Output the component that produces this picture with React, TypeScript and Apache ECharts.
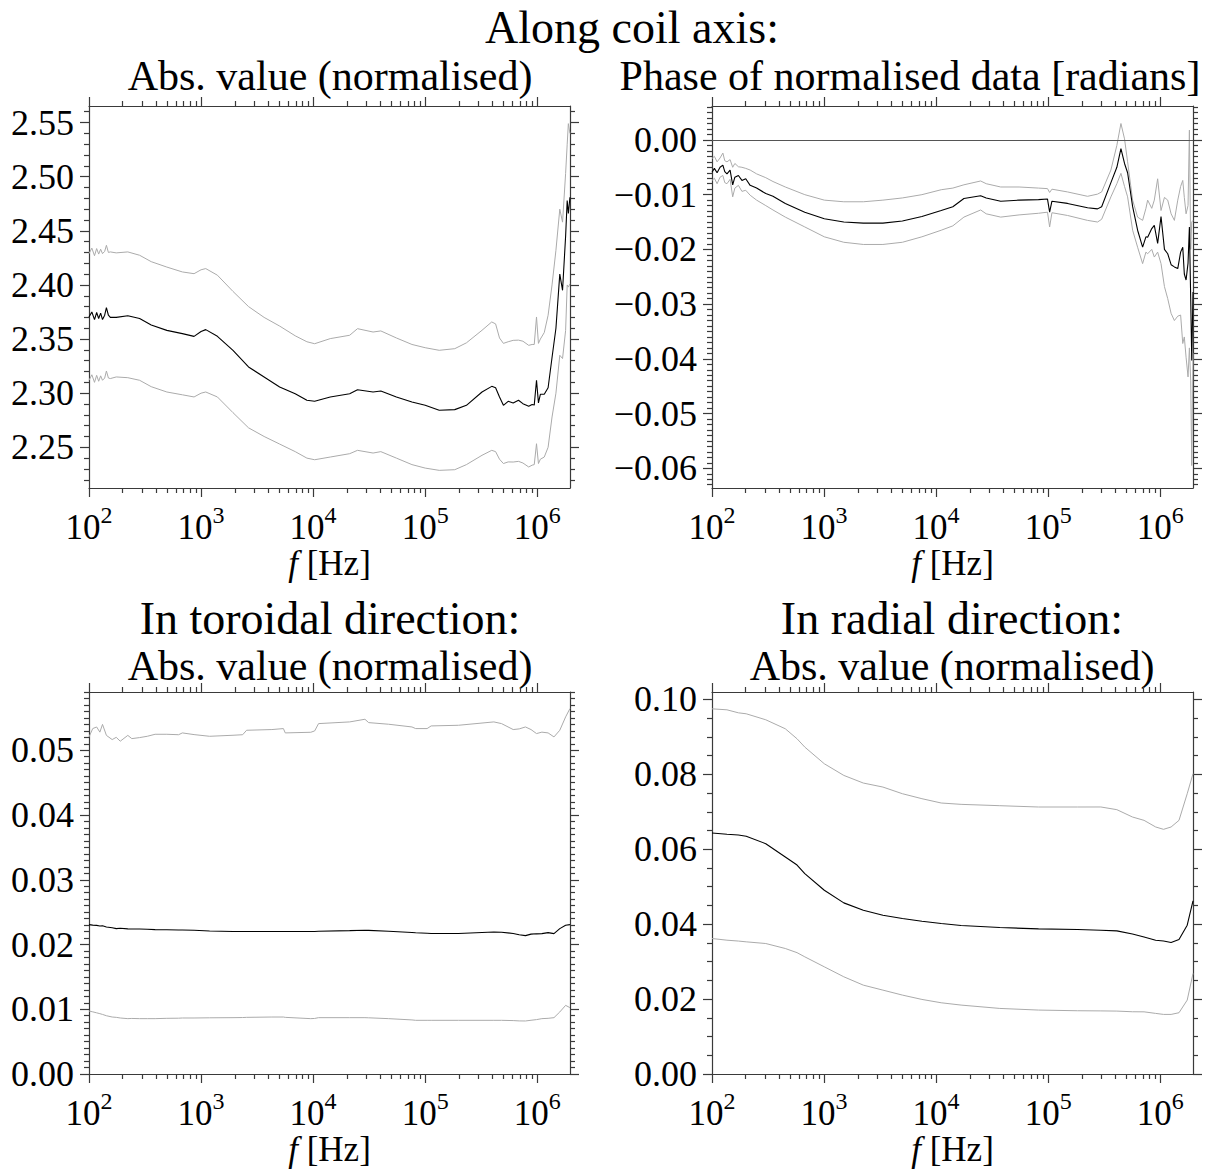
import React, { useEffect, useRef } from "react";
import * as echarts from "echarts";

// ---------- shared x axis ----------
const X_MIN = 100;
const X_MAX = 1.96e6;
const xMajorTicks = [1e2, 1e3, 1e4, 1e5, 1e6];

// ---------- Panel 1: along coil axis, abs value ----------
const coilAbsFreq = [100, 106, 112, 117, 122, 127, 132, 138, 143, 149, 155, 175, 222, 283, 359, 495, 681, 866, 1000, 1101, 1399, 1927, 2652, 3652, 5026, 6921, 8799, 10320, 14210, 21200, 24880, 34270, 40190, 55360, 76210, 100000, 133400, 183600, 233400, 321400, 392600, 425000, 460500, 499000, 550000, 609700, 680000, 744800, 839400, 900000, 940000, 985000, 1025000, 1066000, 1155000, 1250000, 1355000, 1468000, 1589000, 1682000, 1791000, 1850000, 1895000, 1958000];
const coilAbsMean = [2.3704, 2.375, 2.368, 2.3745, 2.369, 2.374, 2.368, 2.372, 2.379, 2.372, 2.37,
  2.37, 2.3716, 2.369, 2.363, 2.358, 2.355, 2.3525, 2.357, 2.3587, 2.3525,
  2.3396, 2.3242, 2.315, 2.3057, 2.2995, 2.2934, 2.2925, 2.2965, 2.2995, 2.3032,
  2.3011, 2.302, 2.2965, 2.2919, 2.2888, 2.2842, 2.2848, 2.2888, 2.3011, 2.3063,
  2.305, 2.2965, 2.2888, 2.2925, 2.2909, 2.2935, 2.2903, 2.2879, 2.2895, 2.289,
  2.3119, 2.291, 2.299, 2.299, 2.305, 2.333, 2.36, 2.41, 2.395, 2.445,
  2.478, 2.466, 2.481];
const coilAbsUpper = [2.4289, 2.434, 2.427, 2.4336, 2.4285, 2.433, 2.4289, 2.431, 2.4366, 2.43, 2.4305,
  2.4296, 2.4305, 2.4274, 2.4215, 2.4165, 2.412, 2.4104, 2.414, 2.4151, 2.409,
  2.394, 2.38, 2.37, 2.362, 2.353, 2.3475, 2.3457, 2.3504, 2.3535, 2.3596,
  2.3565, 2.3575, 2.351, 2.345, 2.342, 2.3396, 2.3411, 2.3465, 2.3581, 2.3658,
  2.364, 2.351, 2.346, 2.3475, 2.3488, 2.349, 2.348, 2.3442, 2.345, 2.345,
  2.3704, 2.346, 2.35, 2.356, 2.372, 2.4, 2.432, 2.47, 2.458, 2.503,
  2.53, 2.549, 2.54];
const coilAbsLower = [2.3119, 2.317, 2.31, 2.3165, 2.311, 2.316, 2.3119, 2.314, 2.3205, 2.314, 2.3135,
  2.315, 2.3143, 2.3119, 2.306, 2.3011, 2.2985, 2.2965, 2.3, 2.3011, 2.2965,
  2.282, 2.268, 2.26, 2.253, 2.246, 2.24, 2.2385, 2.241, 2.2441, 2.2472,
  2.2447, 2.246, 2.24, 2.234, 2.2308, 2.2287, 2.2293, 2.234, 2.2426, 2.2472,
  2.246, 2.239, 2.235, 2.2365, 2.2364, 2.237, 2.2355, 2.2318, 2.2335, 2.234,
  2.2533, 2.235, 2.239, 2.241, 2.25, 2.278, 2.3, 2.335, 2.332, 2.358,
  2.4, 2.398, 2.401];
const coilAbsTicks = [2.25, 2.3, 2.35, 2.4, 2.45, 2.5, 2.55];

// ---------- Panel 2: along coil axis, phase ----------
const phaseFreq = [100, 105, 111, 118, 125, 130, 136, 145, 153, 160, 172, 185, 200, 219, 250, 302, 350, 451, 673, 1005, 1500, 2240, 3350, 5000, 7470, 11100, 14100, 17700, 24960, 28000, 37700, 55000, 82000, 98600, 103000, 108000, 148700, 224500, 275700, 300000, 362800, 410000, 445800, 480000, 511300, 567000, 628000, 696000, 745000, 772000, 840000, 885000, 948000, 1016000, 1090000, 1166000, 1250000, 1337000, 1433000, 1520000, 1588000, 1640000, 1700000, 1770000, 1820000, 1870000, 1910000, 1960000];
const phaseMean = [-0.0059, -0.0052, -0.006, -0.005, -0.0046, -0.0058, -0.0062, -0.0055, -0.0082, -0.0068,
  -0.0065, -0.0074, -0.0071, -0.0083, -0.0088, -0.0098, -0.0103, -0.0116,
  -0.0132, -0.0144, -0.015, -0.0152, -0.0152, -0.0148, -0.014, -0.0129, -0.0122, -0.0107,
  -0.0102, -0.0106, -0.0112, -0.011, -0.0109, -0.0108, -0.0132, -0.0112, -0.0116, -0.0124,
  -0.0126, -0.0122, -0.0078, -0.005, -0.0016, -0.0043, -0.006, -0.0122, -0.0165, -0.0196,
  -0.0177, -0.0178, -0.0162, -0.0156, -0.0189, -0.014, -0.02, -0.0208, -0.0228, -0.0232,
  -0.0235, -0.0205, -0.0196, -0.0245, -0.0256, -0.0225, -0.0159, -0.029, -0.0403, -0.0278];
const phaseUpper = [-0.0034, -0.003, -0.004, -0.0033, -0.0024, -0.0038, -0.004, -0.0036, -0.005, -0.0043,
  -0.0049, -0.005, -0.0052, -0.0055, -0.0062, -0.0069, -0.0076, -0.0086,
  -0.01, -0.011, -0.0113, -0.0113, -0.011, -0.0106, -0.01, -0.0091, -0.0088, -0.0082,
  -0.0075, -0.008, -0.0086, -0.0086, -0.0088, -0.0089, -0.0096, -0.009, -0.0095, -0.0103,
  -0.0099, -0.0095, -0.0055, -0.001, 0.003, 0.0002, -0.004, -0.011, -0.0141, -0.0147,
  -0.0125, -0.011, -0.0125, -0.011, -0.0071, -0.0129, -0.0105, -0.011, -0.0135, -0.0147,
  -0.011, -0.0085, -0.0074, -0.0105, -0.0135, -0.012, 0.0018, -0.02, -0.015, -0.0147];
const phaseLower = [-0.0074, -0.007, -0.008, -0.0068, -0.0065, -0.0078, -0.008, -0.0072, -0.0104, -0.0088,
  -0.0083, -0.0094, -0.0092, -0.0101, -0.011, -0.012, -0.0128, -0.0141,
  -0.0159, -0.0177, -0.0187, -0.0191, -0.0191, -0.0187, -0.0177, -0.0165, -0.0157, -0.0141,
  -0.0128, -0.0135, -0.0141, -0.0137, -0.0134, -0.0132, -0.0159, -0.0133, -0.0138, -0.0147,
  -0.015, -0.0145, -0.0104, -0.008, -0.0061, -0.0085, -0.0104, -0.0165, -0.0196, -0.0226,
  -0.0205, -0.0208, -0.02, -0.0214, -0.0205, -0.0226, -0.0268, -0.029, -0.0317, -0.033,
  -0.0322, -0.032, -0.0372, -0.036, -0.0397, -0.0433, -0.038, -0.044, -0.0595, -0.039];
const phaseTicks = [-0.06, -0.05, -0.04, -0.03, -0.02, -0.01, 0];

// ---------- Panel 3: toroidal direction ----------
const torFreq = [100, 108, 117, 125, 132, 143, 161, 175, 190, 222, 241, 283, 331, 389, 495, 630, 681, 866, 1192, 1927, 2350, 2550, 4284, 5430, 5640, 9527, 10320, 11180, 21200, 29000, 31300, 47200, 76210, 82200, 104000, 113000, 198000, 410000, 480000, 610000, 690000, 785000, 880000, 985000, 1100000, 1250000, 1410000, 1589000, 1791000, 1958000];
const torMean = [0.02307, 0.023, 0.02295, 0.02285, 0.0229, 0.0227, 0.0226, 0.02245, 0.0225, 0.02242,
  0.0224, 0.0224, 0.02235, 0.0223, 0.02228, 0.02225, 0.02224, 0.0222, 0.02208, 0.022,
  0.022, 0.022, 0.022, 0.022, 0.022, 0.022, 0.02202, 0.02205, 0.02214, 0.0222,
  0.02219, 0.02204, 0.02185, 0.02182, 0.02173, 0.0217, 0.0217, 0.02194, 0.0219, 0.0217,
  0.0215, 0.02137, 0.0216, 0.02165, 0.02168, 0.02183, 0.02168, 0.02245, 0.02297, 0.02307];
const torUpper = [0.05206, 0.05335, 0.0536, 0.0528, 0.054, 0.0523, 0.05165, 0.052, 0.0514, 0.0523,
  0.0518, 0.05196, 0.05216, 0.05247, 0.05247, 0.0524, 0.05268, 0.05242, 0.05216, 0.05232,
  0.0524, 0.05309, 0.0532, 0.05335, 0.05268, 0.05278, 0.05299, 0.05412, 0.05438, 0.05479,
  0.05427, 0.05402, 0.0536, 0.05335, 0.05335, 0.05376, 0.05386, 0.05438, 0.05412, 0.0532,
  0.0533, 0.0536, 0.0532, 0.05258, 0.0528, 0.05268, 0.05206, 0.05309, 0.05515, 0.05644];
const torLower = [0.00973, 0.0096, 0.00945, 0.00932, 0.0092, 0.009, 0.0088, 0.00875, 0.00865, 0.00855,
  0.00858, 0.00855, 0.00855, 0.00855, 0.0086, 0.00862, 0.00865, 0.00865, 0.00868, 0.0087,
  0.00872, 0.00875, 0.0088, 0.0088, 0.00875, 0.00855, 0.00858, 0.0087, 0.0087, 0.0087,
  0.00868, 0.00855, 0.00835, 0.00829, 0.00829, 0.00829, 0.00829, 0.00829, 0.00829, 0.00825,
  0.0082, 0.00819, 0.0083, 0.0084, 0.00855, 0.0086, 0.0087, 0.00958, 0.0106, 0.01025];
const torTicks = [0, 0.01, 0.02, 0.03, 0.04, 0.05];

// ---------- Panel 4: radial direction ----------
const radFreq = [100, 136, 172, 202, 302, 451, 574, 673, 1005, 1500, 2240, 3350, 5000, 7470, 11100, 16700, 37000, 82000, 183000, 295000, 410000, 565000, 717000, 910000, 1070000, 1250000, 1470000, 1740000, 1960000];
const radMean = [0.06436, 0.064, 0.0638, 0.06347, 0.0615, 0.05796, 0.0558, 0.05351, 0.04907, 0.04569,
  0.04373, 0.0424, 0.04151, 0.0408, 0.04018, 0.03964, 0.03911, 0.03876, 0.03858, 0.0384,
  0.03822, 0.0374, 0.0366, 0.03573, 0.0355, 0.03511, 0.03591, 0.03973, 0.04622];
const radUpper = [0.09751, 0.09724, 0.09644, 0.09618, 0.09458, 0.09218, 0.08951, 0.08729, 0.08284, 0.07973,
  0.07769, 0.07662, 0.07484, 0.07351, 0.07236, 0.072, 0.07164, 0.07129, 0.07129, 0.0713,
  0.07058, 0.06862, 0.06773, 0.06596, 0.06533, 0.06596, 0.06773, 0.07484, 0.08018];
const radLower = [0.03618, 0.03573, 0.0355, 0.03529, 0.03484, 0.03351, 0.0324, 0.03129, 0.02862, 0.02596,
  0.02373, 0.0224, 0.02107, 0.01991, 0.01902, 0.0184, 0.01751, 0.01707, 0.01689, 0.01685,
  0.0168, 0.01662, 0.0166, 0.01618, 0.01591, 0.01591, 0.01636, 0.01973, 0.02684];
const radTicks = [0, 0.02, 0.04, 0.06, 0.08, 0.1];

// ---------- styling ----------
const FONT = '"Liberation Serif", "Times New Roman", "DejaVu Serif", serif';
const AXIS_COLOR = "#3a3a3a";
const GRAY = "#ababab";
const YTICK_FS = 36;
const XTICK_FS = 35;
const SUP_FS = 24;
const TITLE_FS = 42;
const HEAD_FS = 46;

function stepTicks(lo: number, hi: number, step: number, skipEvery: number): number[] {
  const out: number[] = [];
  const n0 = Math.ceil(lo / step - 1e-9);
  const n1 = Math.floor(hi / step + 1e-9);
  for (let n = n0; n <= n1; n++) {
    if (Math.abs(n % skipEvery) !== 0) out.push(Number((n * step).toFixed(6)));
  }
  return out;
}

const xMinorTicks: number[] = [];
for (let e = 2; e <= 6; e++) {
  for (let k = 2; k <= 9; k++) {
    const v = k * Math.pow(10, e);
    if (v <= X_MAX) xMinorTicks.push(v);
  }
}

const pair = (f: number[], v: number[]) => f.map((x, i) => [x, v[i]]);

const panels = [
  { grid: { left: 89, top: 106 }, ymin: 2.2124, ymax: 2.5653, major: coilAbsTicks, minor: stepTicks(2.2124, 2.5653, 0.01, 5), freq: coilAbsFreq, mean: coilAbsMean, up: coilAbsUpper, lo: coilAbsLower, zero: false },
  { grid: { left: 712, top: 106 }, ymin: -0.0636, ymax: 0.0062, major: phaseTicks, minor: stepTicks(-0.0636, 0.0062, 0.001, 10), freq: phaseFreq, mean: phaseMean, up: phaseUpper, lo: phaseLower, zero: true },
  { grid: { left: 89, top: 692 }, ymin: 0, ymax: 0.059, major: torTicks, minor: stepTicks(0, 0.059, 0.001, 10), freq: torFreq, mean: torMean, up: torUpper, lo: torLower, zero: false },
  { grid: { left: 712, top: 692 }, ymin: 0, ymax: 0.102, major: radTicks, minor: stepTicks(0, 0.102, 0.005, 4), freq: radFreq, mean: radMean, up: radUpper, lo: radLower, zero: false },
];

const PW = 481;
const PH = 382;

function yFmt(v: number) {
  const s = Math.abs(v).toFixed(2);
  return v < -1e-12 ? "\u2212" + s : s;
}

function buildOption() {
  const grids: any[] = [];
  const xAxes: any[] = [];
  const yAxes: any[] = [];
  const series: any[] = [];
  const lineStyle = { color: AXIS_COLOR, width: 1.2 };
  panels.forEach((p, g) => {
    grids.push({ left: p.grid.left, top: p.grid.top, width: PW, height: PH, containLabel: false, outerBoundsMode: "none" });
    const bx = { type: "log", logBase: 10, gridIndex: g, min: X_MIN, max: X_MAX, splitLine: { show: false }, minorTick: { show: false } };
    xAxes.push({
      ...bx, position: "bottom",
      axisLine: { show: true, onZero: false, lineStyle },
      axisTick: { show: true, inside: false, length: 9, customValues: xMajorTicks, lineStyle },
      axisLabel: {
        show: true, customValues: xMajorTicks, margin: 15,
        formatter: (v: number) => `{b|10}{s|${Math.round(Math.log10(v))}}`,
        rich: {
          b: { fontSize: XTICK_FS, fontFamily: FONT, color: "#000", lineHeight: 42, verticalAlign: "bottom" },
          s: { fontSize: SUP_FS, fontFamily: FONT, color: "#000", lineHeight: 24, verticalAlign: "top" },
        },
      },
      name: "{i|f} [Hz]", nameLocation: "middle", nameGap: 55,
      nameTextStyle: { fontSize: XTICK_FS, fontFamily: FONT, color: "#000", rich: { i: { fontSize: XTICK_FS, fontFamily: FONT, fontStyle: "italic", color: "#000" } } },
    });
    xAxes.push({ ...bx, position: "bottom", axisLine: { show: false, onZero: false }, axisTick: { show: true, inside: false, length: 5, customValues: xMinorTicks, lineStyle }, axisLabel: { show: false } });
    xAxes.push({ ...bx, position: "top", axisLine: { show: true, onZero: false, lineStyle }, axisTick: { show: true, inside: false, length: 9, customValues: xMajorTicks, lineStyle }, axisLabel: { show: false } });
    xAxes.push({ ...bx, position: "top", axisLine: { show: false, onZero: false }, axisTick: { show: true, inside: false, length: 5, customValues: xMinorTicks, lineStyle }, axisLabel: { show: false } });

    const by = { type: "value", gridIndex: g, min: p.ymin, max: p.ymax, splitLine: { show: false }, minorTick: { show: false } };
    yAxes.push({
      ...by, position: "left",
      axisLine: { show: true, onZero: false, lineStyle },
      axisTick: { show: true, inside: false, length: 9, customValues: p.major, lineStyle },
      axisLabel: { show: true, customValues: p.major, margin: 15, formatter: yFmt, fontSize: YTICK_FS, fontFamily: FONT, color: "#000" },
    });
    yAxes.push({ ...by, position: "left", axisLine: { show: false, onZero: false }, axisTick: { show: true, inside: false, length: 5, customValues: p.minor, lineStyle }, axisLabel: { show: false } });
    yAxes.push({ ...by, position: "right", axisLine: { show: true, onZero: false, lineStyle }, axisTick: { show: true, inside: false, length: 9, customValues: p.major, lineStyle }, axisLabel: { show: false } });
    yAxes.push({ ...by, position: "right", axisLine: { show: false, onZero: false }, axisTick: { show: true, inside: false, length: 5, customValues: p.minor, lineStyle }, axisLabel: { show: false } });

    const common = { type: "line", xAxisIndex: 4 * g, yAxisIndex: 4 * g, showSymbol: false, symbol: "none", silent: true, animation: false, emphasis: { disabled: true } };
    series.push({ ...common, name: `upper${g}`, data: pair(p.freq, p.up), lineStyle: { color: GRAY, width: 1 }, itemStyle: { color: GRAY },
      markLine: p.zero ? { silent: true, symbol: ["none", "none"], label: { show: false }, lineStyle: { color: "#555", width: 1.2, type: "solid" }, data: [{ yAxis: 0 }] } : undefined });
    series.push({ ...common, name: `lower${g}`, data: pair(p.freq, p.lo), lineStyle: { color: GRAY, width: 1 }, itemStyle: { color: GRAY } });
    series.push({ ...common, name: `mean${g}`, data: pair(p.freq, p.mean), lineStyle: { color: "#000", width: 1.1 }, itemStyle: { color: "#000" } });
  });

  const txt = (text: string, x: number, y: number, size: number) => ({
    type: "text", x, y, silent: true,
    style: { text, fontSize: size, fontFamily: FONT, fill: "#000", align: "center", verticalAlign: "middle" },
  });

  return {
    animation: false,
    backgroundColor: "#ffffff",
    grid: grids,
    xAxis: xAxes,
    yAxis: yAxes,
    series,
    graphic: [
      txt("Along coil axis:", 632, 27, HEAD_FS),
      txt("Abs. value (normalised)", 330, 76, TITLE_FS),
      txt("Phase of normalised data [radians]", 910, 76, TITLE_FS),
      txt("In toroidal direction:", 330, 618, HEAD_FS),
      txt("Abs. value (normalised)", 330, 666, TITLE_FS),
      txt("In radial direction:", 952, 618, HEAD_FS),
      txt("Abs. value (normalised)", 952, 666, TITLE_FS),
    ],
  };
}

export default function App() {
  const ref = useRef<HTMLDivElement>(null);
  useEffect(() => {
    if (!ref.current) return;
    const chart = echarts.init(ref.current, undefined, { renderer: "svg" });
    chart.setOption(buildOption() as any);
    return () => chart.dispose();
  }, []);
  return (
    <div
      ref={ref}
      style={{ position: "absolute", left: 0, top: 0, width: 1220, height: 1171, background: "#fff" }}
    />
  );
}
